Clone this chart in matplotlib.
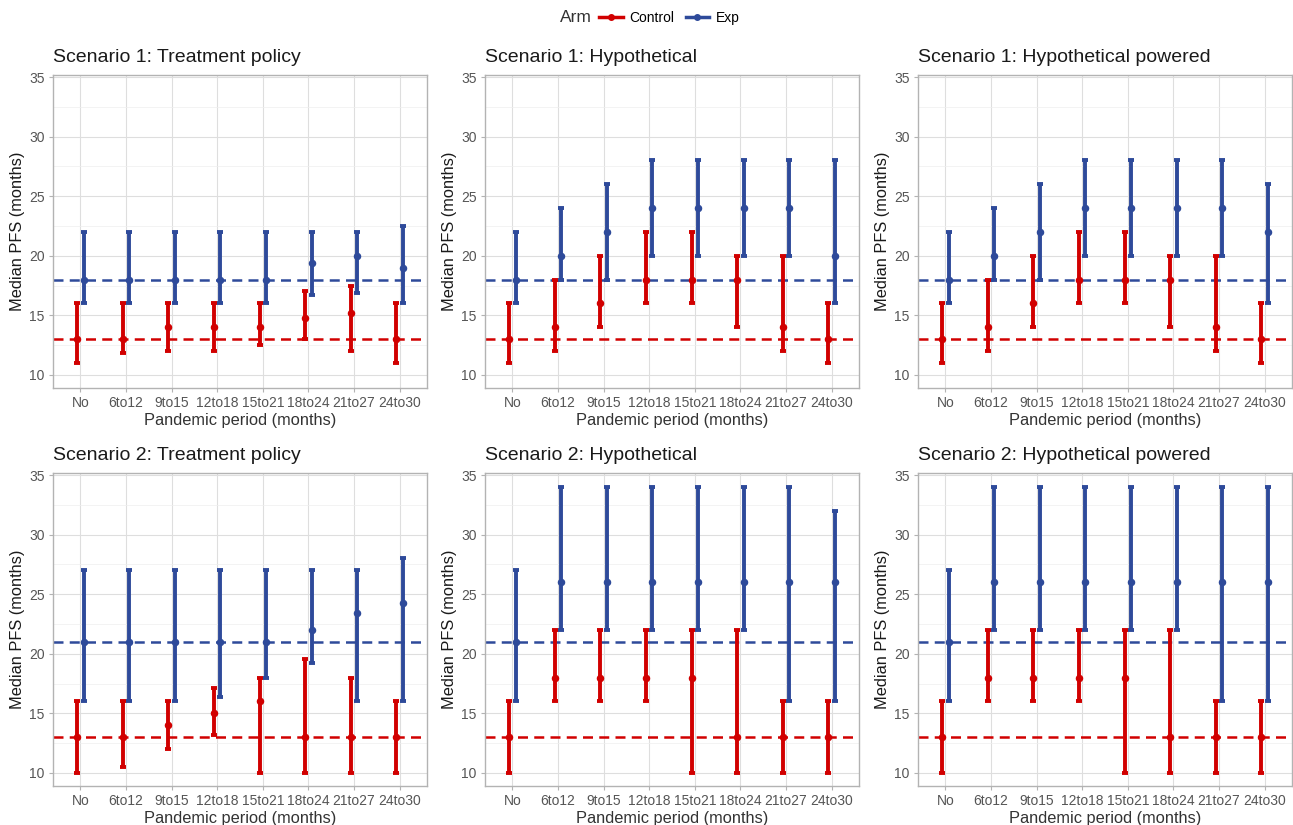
import matplotlib.pyplot as plt
import numpy as np
from matplotlib.lines import Line2D

plt.rcParams['font.family'] = ['Liberation Sans', 'DejaVu Sans']

periods = ["No", "6to12", "9to15", "12to18", "15to21", "18to24", "21to27", "24to30"]

titles = [
    "Scenario 1: Treatment policy", "Scenario 1: Hypothetical", "Scenario 1: Hypothetical powered",
    "Scenario 2: Treatment policy", "Scenario 2: Hypothetical", "Scenario 2: Hypothetical powered",
]

# control arm: median, lower, upper per panel
ctrl_med = [
    [13, 13, 14, 14, 14, 14.8, 15.2, 13],
    [13, 14, 16, 18, 18, 18, 14, 13],
    [13, 14, 16, 18, 18, 18, 14, 13],
    [13, 13, 14, 15, 16, 13, 13, 13],
    [13, 18, 18, 18, 18, 13, 13, 13],
    [13, 18, 18, 18, 18, 13, 13, 13],
]
ctrl_lo = [
    [11, 11.8, 12, 12, 12.5, 13, 12, 11],
    [11, 12, 14, 16, 16, 14, 12, 11],
    [11, 12, 14, 16, 16, 14, 12, 11],
    [10, 10.5, 12, 13.2, 10, 10, 10, 10],
    [10, 16, 16, 16, 10, 10, 10, 10],
    [10, 16, 16, 16, 10, 10, 10, 10],
]
ctrl_hi = [
    [16, 16, 16, 16, 16, 17, 17.5, 16],
    [16, 18, 20, 22, 22, 20, 20, 16],
    [16, 18, 20, 22, 22, 20, 20, 16],
    [16, 16, 16, 17.1, 18, 19.6, 18, 16],
    [16, 22, 22, 22, 22, 22, 16, 16],
    [16, 22, 22, 22, 22, 22, 16, 16],
]
# experimental arm
exp_med = [
    [18, 18, 18, 18, 18, 19.4, 20, 19],
    [18, 20, 22, 24, 24, 24, 24, 20],
    [18, 20, 22, 24, 24, 24, 24, 22],
    [21, 21, 21, 21, 21, 22, 23.4, 24.3],
    [21, 26, 26, 26, 26, 26, 26, 26],
    [21, 26, 26, 26, 26, 26, 26, 26],
]
exp_lo = [
    [16, 16, 16, 16, 16, 16.7, 16.9, 16],
    [16, 18, 18, 20, 20, 20, 20, 16],
    [16, 18, 18, 20, 20, 20, 20, 16],
    [16, 16, 16, 16.4, 18, 19.25, 16, 16],
    [16, 22, 22, 22, 22, 22, 16, 16],
    [16, 22, 22, 22, 22, 22, 16, 16],
]
exp_hi = [
    [22, 22, 22, 22, 22, 22, 22, 22.5],
    [22, 24, 26, 28, 28, 28, 28, 28],
    [22, 24, 26, 28, 28, 28, 28, 26],
    [27, 27, 27, 27, 27, 27, 27, 28],
    [27, 34, 34, 34, 34, 34, 34, 32],
    [27, 34, 34, 34, 34, 34, 34, 34],
]
# reference (no pandemic) medians per scenario row
ref_ctrl = [13, 13]
ref_exp = [18, 21]

RED = "#D10000"
BLUE = "#2E4A9A"

fig = plt.figure(figsize=(12.93, 8.25), dpi=100)

lefts = [53, 485, 918]
width = 374
tops = [75, 473]
height = 313
W, H = 1293, 825

x = np.arange(1, len(periods) + 1)
dodge = 0.07

for i in range(6):
    row, col = divmod(i, 3)
    ax = fig.add_axes([lefts[col] / W, 1 - (tops[row] + height) / H, width / W, height / H])
    ax.set_xlim(0.4, 8.6)
    ax.set_ylim(8.9, 35.17)
    ax.set_yticks([10, 15, 20, 25, 30, 35])
    ax.set_yticks(np.arange(12.5, 35, 5), minor=True)
    ax.set_xticks(x)
    ax.set_xticklabels(periods)
    ax.grid(True, which="major", color="#DEDEDE", linewidth=0.8)
    ax.grid(True, which="minor", axis="y", color="#EEEEEE", linewidth=0.5)
    ax.set_axisbelow(True)
    for s in ax.spines.values():
        s.set_color("#B3B3B3")
        s.set_linewidth(1.0)
    ax.tick_params(which="major", colors="#B3B3B3", labelcolor="#555555", labelsize=10, length=3, pad=3)
    ax.tick_params(which="minor", length=0)

    ax.axhline(ref_ctrl[row], color=RED, linestyle=(0, (4, 2.5)), linewidth=1.8, zorder=1.5)
    ax.axhline(ref_exp[row], color=BLUE, linestyle=(0, (4, 2.5)), linewidth=1.8, zorder=1.5)

    cm = np.array(ctrl_med[i])
    em = np.array(exp_med[i])
    ax.errorbar(x - dodge, cm, yerr=[cm - np.array(ctrl_lo[i]), np.array(ctrl_hi[i]) - cm],
                fmt="o", color=RED, ecolor=RED, elinewidth=2.8, capsize=2, capthick=2.8,
                markersize=4.4, zorder=3)
    ax.errorbar(x + dodge, em, yerr=[em - np.array(exp_lo[i]), np.array(exp_hi[i]) - em],
                fmt="o", color=BLUE, ecolor=BLUE, elinewidth=2.8, capsize=2, capthick=2.8,
                markersize=4.4, zorder=3)

    ax.set_title(titles[i], loc="left", fontsize=14, color="#1A1A1A", pad=9)
    ax.set_ylabel("Median PFS (months)", fontsize=11.8, color="#1A1A1A", labelpad=3)
    ax.set_xlabel("Pandemic period (months)", fontsize=11.8, color="#333333", labelpad=2)

handles = [
    Line2D([], [], color=RED, marker="o", markersize=4, linewidth=2.5),
    Line2D([], [], color=BLUE, marker="o", markersize=4, linewidth=2.5),
]
fig.text(560 / W, 1 - 18 / H, "Arm", fontsize=12.5, color="#333333", va="center", ha="left")
fig.legend(handles, ["Control", "Exp"], loc="center left",
           bbox_to_anchor=(599 / W, 1 - 18 / H), ncol=2, frameon=False, fontsize=10,
           handlelength=1.7, columnspacing=0.8, handletextpad=0.5, borderaxespad=0,
           borderpad=0)

fig.savefig("out.png", dpi=100)
